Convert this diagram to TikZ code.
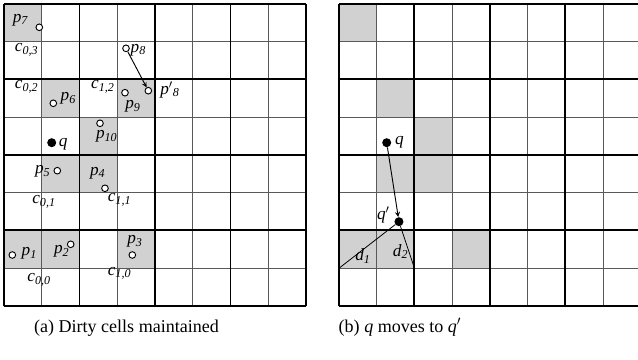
\documentclass[tikz,border=0pt]{standalone}
\usepackage{fontspec}
\setmainfont{Liberation Serif}
\usepackage{xcolor}
\usepackage{tikz}
\usetikzlibrary{calc, positioning}

\definecolor{dirty}{gray}{0.82}
\newcommand{\ptname}[2]{\textit{#1}\textsubscript{\textit{#2}}}

\begin{document}
\begin{tikzpicture}[>=stealth,
    gridthin/.style={line width=0.6pt, black!65},
    gridthick/.style={line width=1.5pt, black},
    pnt/.style={circle, draw, fill=white, line width=0.7pt, inner sep=0pt, minimum size=5pt},
    qpnt/.style={circle, fill=black, inner sep=0pt, minimum size=6.8pt},
    plabel/.style={font=\fontsize{13}{13}\selectfont, inner sep=0pt},
    clabel/.style={font=\fontsize{13}{13}\selectfont, inner sep=0pt},
    capt/.style={font=\fontsize{13.6}{15}\selectfont, inner sep=0pt}]

    % =================================================================
    % 0. KHUNG HINH
    % =================================================================
    \useasboundingbox (-0.106,-1.43) rectangle (16.795,8.106);
    \clip (-0.106,-1.43) rectangle (16.795,8.106);

    % =================================================================
    % 1. LUOI TRAI: CAC O BAN (DIRTY CELLS)
    % =================================================================
    \fill[dirty] (0,7) rectangle (1,8);
    \fill[dirty] (1,5) rectangle (2,6);
    \fill[dirty] (3,5) rectangle (4,6);
    \fill[dirty] (2,4) rectangle (3,5);
    \fill[dirty] (1,3) rectangle (3,4);
    \fill[dirty] (0,1) rectangle (2,2);
    \fill[dirty] (3,1) rectangle (4,2);

    % Luoi manh va luoi dam
    \draw[gridthin] (0,0) grid[step=1] (8,8);
    \draw[gridthick] (0,0) grid[step=2] (8,8);

    % Nhan cac o c_{i,j}
    \node[clabel] (c03) at (0.600,6.781) {\ptname{c}{0,3}};
    \node[clabel] (c02) at (0.600,5.800) {\ptname{c}{0,2}};
    \node[clabel] (c12) at (2.620,5.800) {\ptname{c}{1,2}};
    \node[clabel] (c01) at (1.060,2.763) {\ptname{c}{0,1}};
    \node[clabel] (c11) at (3.060,2.808) {\ptname{c}{1,1}};
    \node[clabel] (c00) at (0.930,0.689) {\ptname{c}{0,0}};
    \node[clabel] (c10) at (3.060,0.866) {\ptname{c}{1,0}};

    % Cac diem p_i va diem truy van q
    \node[pnt] (p7) at (0.935,7.383) {};
    \node[pnt] (p8) at (3.232,6.826) {};
    \node[pnt] (p8b) at (3.823,5.703) {};
    \node[pnt] (p9) at (3.205,5.650) {};
    \node[pnt] (p6) at (1.306,5.370) {};
    \node[pnt] (p10) at (2.543,4.840) {};
    \node[qpnt] (q) at (1.264,4.326) {};
    \node[pnt] (p5) at (1.412,3.584) {};
    \node[pnt] (p4) at (2.675,3.118) {};
    \node[pnt] (p1) at (0.220,1.351) {};
    \node[pnt] (p2) at (1.767,1.634) {};
    \node[pnt] (p3) at (3.399,1.351) {};

    % p_8 di chuyen den p'_8
    \draw[->, line width=0.7pt] (p8) -- (p8b);

    % Nhan cac diem
    \node[plabel] (lp7) at (0.442,7.576) {\ptname{p}{7}};
    \node[plabel] (lp8) at (3.560,6.781) {\ptname{p}{8}};
    \node[plabel] (lp8b) at (4.397,5.722) {\textit{p}$'$\textsubscript{\textit{8}}};
    \node[plabel] (lp9) at (3.417,5.280) {\ptname{p}{9}};
    \node[plabel] (lp6) at (1.703,5.502) {\ptname{p}{6}};
    \node[plabel] (lp10) at (2.721,4.485) {\ptname{p}{10}};
    \node[plabel] (lq) at (1.571,4.291) {\textit{q}};
    \node[plabel] (lp5) at (1.025,3.558) {\ptname{p}{5}};
    \node[plabel] (lp4) at (2.482,3.515) {\ptname{p}{4}};
    \node[plabel] (lp1) at (0.670,1.396) {\ptname{p}{1}};
    \node[plabel] (lp2) at (1.528,1.438) {\ptname{p}{2}};
    \node[plabel] (lp3) at (3.470,1.703) {\ptname{p}{3}};

    \node[capt] (capa) at (3.245,-0.575) {(a) Dirty cells maintained};

    % =================================================================
    % 2. LUOI PHAI: q DI CHUYEN DEN q'
    % =================================================================
    \begin{scope}[xshift=8.874cm]
        \fill[dirty] (0,7) rectangle (1,8);
        \fill[dirty] (1,5) rectangle (2,6);
        \fill[dirty] (2,4) rectangle (3,5);
        \fill[dirty] (1,3) rectangle (3,4);
        \fill[dirty] (0,1) rectangle (2,2);
        \fill[dirty] (3,1) rectangle (4,2);

        \draw[gridthin] (0,0) grid[step=1] (8,8);
        \draw[gridthick] (0,0) grid[step=2] (8,8);

        \coordinate (D1) at (0,1);
        \coordinate (D2) at (2,1);

        \node[qpnt] (rq) at (1.264,4.326) {};
        \node[qpnt] (rqb) at (1.589,2.233) {};

        \draw[->, line width=0.7pt] (rq) -- (rqb);
        \draw[line width=0.6pt] (rqb) -- (D1);
        \draw[line width=0.6pt] (rqb) -- (D2);

        \node[plabel] (lrq) at (1.600,4.326) {\textit{q}};
        \node[plabel] (lrqb) at (1.174,2.410) {\textit{q}$'$};
        \node[plabel] (ld1) at (0.636,1.320) {\ptname{d}{1}};
        \node[plabel] (ld2) at (1.634,1.440) {\ptname{d}{2}};

        \node[capt] (capb) at (1.616,-0.575) {(b) \textit{q} moves to \textit{q}$'$};
    \end{scope}

\end{tikzpicture}
\end{document}
